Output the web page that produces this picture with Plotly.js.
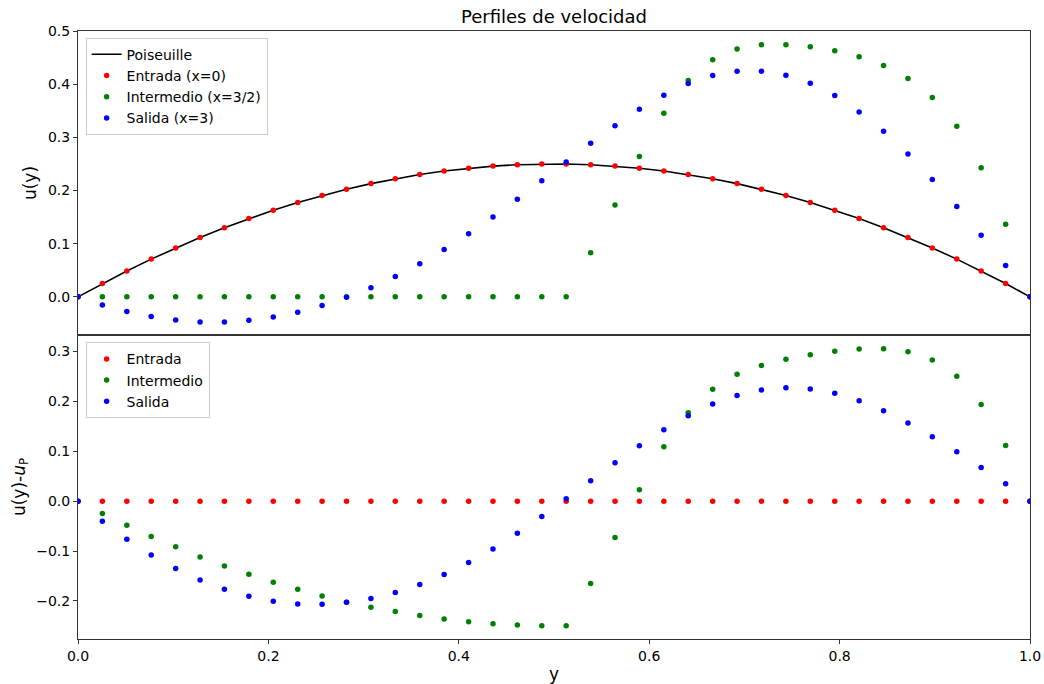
<!DOCTYPE html>
<html>
<head>
<meta charset="utf-8">
<script src="https://cdn.plot.ly/plotly-3.0.1.min.js"></script>
<style>
  html, body { margin: 0; padding: 0; background: #fff; }
  #chart { width: 1044px; height: 684px; }
</style>
</head>
<body>
<div id="chart"></div>
<script>
// Sample positions across the channel (y)
const yPos = [0, 0.0256, 0.0513, 0.0769, 0.1026, 0.1282, 0.1538, 0.1795, 0.2051, 0.2308,
  0.2564, 0.2821, 0.3077, 0.3333, 0.3590, 0.3846, 0.4103, 0.4359, 0.4615, 0.4872,
  0.5128, 0.5385, 0.5641, 0.5897, 0.6154, 0.6410, 0.6667, 0.6923, 0.7179, 0.7436,
  0.7692, 0.7949, 0.8205, 0.8462, 0.8718, 0.8974, 0.9231, 0.9487, 0.9744, 1.0];

// Top panel: u(y)
const poiseuille = [0, 0.0250, 0.0487, 0.0710, 0.0920, 0.1118, 0.1302, 0.1473, 0.1631, 0.1775,
  0.1907, 0.2025, 0.2130, 0.2222, 0.2301, 0.2367, 0.2420, 0.2459, 0.2485, 0.2498,
  0.2498, 0.2485, 0.2459, 0.2420, 0.2367, 0.2301, 0.2222, 0.2130, 0.2025, 0.1907,
  0.1775, 0.1631, 0.1473, 0.1302, 0.1118, 0.0920, 0.0710, 0.0487, 0.0250, 0];
const entrada = [0, 0.0250, 0.0487, 0.0710, 0.0920, 0.1118, 0.1302, 0.1473, 0.1631, 0.1775,
  0.1907, 0.2025, 0.2130, 0.2222, 0.2301, 0.2367, 0.2420, 0.2459, 0.2485, 0.2498,
  0.2498, 0.2485, 0.2459, 0.2420, 0.2367, 0.2301, 0.2222, 0.2130, 0.2025, 0.1907,
  0.1775, 0.1631, 0.1473, 0.1302, 0.1118, 0.0920, 0.0710, 0.0487, 0.0250, 0];
const intermedio = [0, 0, 0, 0, 0, 0, 0, 0, 0, 0,
  0, 0, 0, 0, 0, 0, 0, 0, 0, 0,
  0, 0.0830, 0.1730, 0.2642, 0.3453, 0.4069, 0.4459, 0.4660, 0.4742, 0.4742,
  0.4704, 0.4629, 0.4516, 0.4352, 0.4107, 0.3748, 0.3208, 0.2428, 0.1365, 0];
const salida = [0, -0.0151, -0.0277, -0.0371, -0.0434, -0.0472, -0.0472, -0.0440, -0.0377, -0.0289,
  -0.0164, -0.0006, 0.0170, 0.0384, 0.0623, 0.0893, 0.1189, 0.1503, 0.1836, 0.2182,
  0.2535, 0.2887, 0.3220, 0.3528, 0.3792, 0.4013, 0.4164, 0.4245, 0.4245, 0.4170,
  0.4019, 0.3786, 0.3478, 0.3113, 0.2686, 0.2208, 0.1698, 0.1157, 0.0591, 0];

// Bottom panel: u(y) - u_P
const entradaDiff = [0, 0, 0, 0, 0, 0, 0, 0, 0, 0,
  0, 0, 0, 0, 0, 0, 0, 0, 0, 0,
  0, 0, 0, 0, 0, 0, 0, 0, 0, 0,
  0, 0, 0, 0, 0, 0, 0, 0, 0, 0];
const intermedioDiff = [0, -0.0247, -0.0482, -0.0709, -0.0916, -0.1117, -0.1298, -0.1465, -0.1625, -0.1766,
  -0.1900, -0.2025, -0.2127, -0.2214, -0.2294, -0.2361, -0.2415, -0.2455, -0.2482, -0.2495,
  -0.2495, -0.1652, -0.0729, 0.0227, 0.1090, 0.1773, 0.2241, 0.2542, 0.2722, 0.2843,
  0.2936, 0.3003, 0.3050, 0.3057, 0.2997, 0.2829, 0.2502, 0.1940, 0.1117, 0];
const salidaDiff = [0, -0.0401, -0.0763, -0.1077, -0.1351, -0.1579, -0.1766, -0.1906, -0.2007, -0.2060,
  -0.2067, -0.2027, -0.1953, -0.1833, -0.1672, -0.1472, -0.1231, -0.0957, -0.0642, -0.0308,
  0.0047, 0.0408, 0.0769, 0.1110, 0.1431, 0.1712, 0.1946, 0.2120, 0.2227, 0.2274,
  0.2247, 0.2161, 0.2013, 0.1813, 0.1565, 0.1291, 0.0990, 0.0676, 0.0348, 0];

const xTicks = [0, 0.2, 0.4, 0.6, 0.8, 1.0];
const topTicks = [0, 0.1, 0.2, 0.3, 0.4, 0.5];
const bottomTicks = [-0.2, -0.1, 0, 0.1, 0.2, 0.3];

const FONT = 'DejaVu Sans, sans-serif';
const RED = '#ff0000', GREEN = '#008000', BLUE = '#0000ff';
const MS = 5.5;

const traces = [
  { x: yPos, y: poiseuille, type: 'scatter', mode: 'lines', name: 'Poiseuille',
    line: { color: '#000000', width: 1.6 }, xaxis: 'x', yaxis: 'y', legend: 'legend' },
  { x: yPos, y: entrada, type: 'scatter', mode: 'markers', name: 'Entrada (x=0)',
    marker: { color: RED, size: MS }, xaxis: 'x', yaxis: 'y', legend: 'legend' },
  { x: yPos, y: intermedio, type: 'scatter', mode: 'markers', name: 'Intermedio (x=3/2)',
    marker: { color: GREEN, size: MS }, xaxis: 'x', yaxis: 'y', legend: 'legend' },
  { x: yPos, y: salida, type: 'scatter', mode: 'markers', name: 'Salida (x=3)',
    marker: { color: BLUE, size: MS }, xaxis: 'x', yaxis: 'y', legend: 'legend' },
  { x: yPos, y: entradaDiff, type: 'scatter', mode: 'markers', name: 'Entrada',
    marker: { color: RED, size: MS }, xaxis: 'x2', yaxis: 'y2', legend: 'legend2' },
  { x: yPos, y: intermedioDiff, type: 'scatter', mode: 'markers', name: 'Intermedio',
    marker: { color: GREEN, size: MS }, xaxis: 'x2', yaxis: 'y2', legend: 'legend2' },
  { x: yPos, y: salidaDiff, type: 'scatter', mode: 'markers', name: 'Salida',
    marker: { color: BLUE, size: MS }, xaxis: 'x2', yaxis: 'y2', legend: 'legend2' }
];

const axisCommon = {
  showline: true, mirror: true, linecolor: '#333', linewidth: 1,
  showgrid: false, zeroline: false,
  tickfont: { family: FONT, size: 14, color: '#000' },
  ticks: 'outside', ticklen: 4, tickwidth: 1, tickcolor: '#333'
};

const legendCommon = {
  xanchor: 'left', yanchor: 'top',
  bgcolor: 'rgba(255,255,255,0.8)', bordercolor: '#cccccc', borderwidth: 1,
  font: { family: FONT, size: 14, color: '#000' },
  itemwidth: 30, tracegroupgap: 0
};

const layout = {
  width: 1044, height: 684,
  margin: { l: 78, r: 14, t: 31, b: 45 },
  paper_bgcolor: '#ffffff', plot_bgcolor: '#ffffff',
  font: { family: FONT, color: '#000' },
  title: { text: 'Perfiles de velocidad', font: { family: FONT, size: 18, color: '#000' },
           x: 0.5, xref: 'paper', y: 1 - 17 / 684, yref: 'container', yanchor: 'middle' },
  showlegend: true,
  legend: Object.assign({ x: 0.008, y: 0.989 }, legendCommon),
  legend2: Object.assign({ x: 0.008, y: 0.488 }, legendCommon),
  xaxis: Object.assign({}, axisCommon, {
    domain: [0, 1], anchor: 'y', range: [0, 1], showticklabels: false, ticks: ''
  }),
  yaxis: Object.assign({}, axisCommon, {
    domain: [0.5, 1], anchor: 'x', range: [-0.0717, 0.5],
    tickvals: topTicks, tickformat: '.1f',
    title: { text: 'u(y)', font: { family: FONT, size: 17, color: '#000' }, standoff: 6 }
  }),
  xaxis2: Object.assign({}, axisCommon, {
    domain: [0, 1], anchor: 'y2', range: [0, 1], matches: 'x',
    tickvals: xTicks, tickformat: '.1f',
    title: { text: 'y', font: { family: FONT, size: 17, color: '#000' }, standoff: 8 }
  }),
  yaxis2: Object.assign({}, axisCommon, {
    domain: [0, 0.5], anchor: 'x2', range: [-0.2763, 0.3331],
    tickvals: bottomTicks, tickformat: '.1f',
    title: { text: 'u(y)-<i>u</i><sub>P</sub>', font: { family: FONT, size: 17, color: '#000' }, standoff: 6 }
  })
};

Plotly.newPlot('chart', traces, layout, { displayModeBar: false, staticPlot: true });
</script>
</body>
</html>
